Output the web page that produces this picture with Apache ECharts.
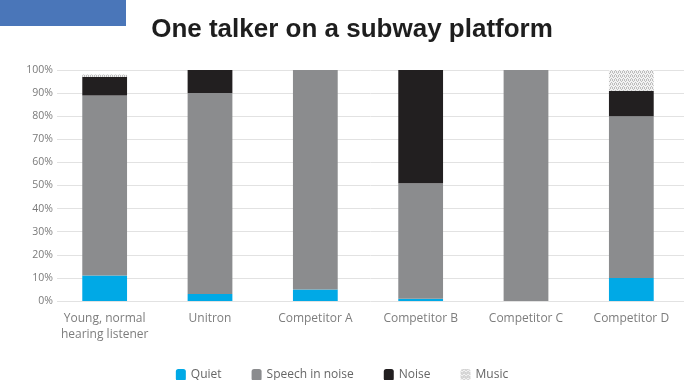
<!DOCTYPE html>
<html>
<head>
<meta charset="utf-8">
<script src="https://cdn.jsdelivr.net/npm/echarts@6/dist/echarts.min.js"></script>
<style>
  html, body { margin: 0; padding: 0; background: #ffffff; }
  #chart { width: 684px; height: 380px; }
</style>
</head>
<body>
<div id="chart"></div>
<script>
// Share of listening situations per listener/device (percent)
const categories = ['Young, normal\nhearing listener', 'Unitron', 'Competitor A', 'Competitor B', 'Competitor C', 'Competitor D'];
const quiet = [11, 3, 5, 1, 0, 10];
const speechInNoise = [78, 87, 95, 50, 100, 70];
const noise = [8, 10, 0, 49, 0, 11];
const music = [1, 0, 0, 0, 0, 9];
const yTicks = [0, 10, 20, 30, 40, 50, 60, 70, 80, 90, 100];

// Fine cross-hatch fill for the "Music" segments
function hatchPattern() {
  const c = document.createElement('canvas');
  c.width = 4; c.height = 4;
  const g = c.getContext('2d');
  g.fillStyle = '#f2f2f2';
  g.fillRect(0, 0, 4, 4);
  g.fillStyle = '#bcbcbc';
  g.fillRect(0, 0, 1, 1);
  g.fillRect(2, 0, 1, 1);
  g.fillRect(1, 1, 1, 1);
  g.fillRect(3, 2, 1, 1);
  g.fillRect(0, 3, 1, 1);
  g.fillRect(2, 3, 1, 1);
  return { image: c, repeat: 'repeat' };
}

const font = '"Open Sans", "Liberation Sans", sans-serif';
const chart = echarts.init(document.getElementById('chart'), null, { renderer: 'canvas' });

chart.setOption({
  backgroundColor: '#ffffff',
  animation: false,
  title: {
    text: 'One talker on a subway platform',
    left: 347, top: 12, textAlign: 'center',
    textStyle: { fontFamily: '"Liberation Sans", sans-serif', fontWeight: 'bold', fontSize: 26, color: '#1e1e1e' }
  },
  graphic: [
    { type: 'rect', left: 0, top: 0, shape: { width: 126, height: 26 }, style: { fill: '#4a76b9' }, z: 10 }
  ],
  legend: {
    bottom: -6, left: 'center',
    itemWidth: 10, itemHeight: 12, itemGap: 30,
    textStyle: { fontFamily: font, fontSize: 12, color: '#666' },
    data: ['Quiet', 'Speech in noise', 'Noise', 'Music']
  },
  grid: [
    { left: 52, top: 70, width: 634, height: 231 },
    { left: 57, top: 70, width: 627, height: 231 }
  ],
  xAxis: [
    {
      gridIndex: 0, type: 'category', data: categories,
      axisLine: { show: false }, axisTick: { show: false },
      axisLabel: { fontFamily: font, fontSize: 12, color: '#7d7d7d', lineHeight: 16, margin: 10, interval: 0 }
    },
    { gridIndex: 1, type: 'value', show: false, min: 0, max: 1 }
  ],
  yAxis: [
    { gridIndex: 0, type: 'value', min: 0, max: 100, interval: 10, show: false },
    {
      gridIndex: 1, type: 'value', min: 0, max: 100, interval: 10,
      axisLine: { show: false }, axisTick: { show: false },
      splitLine: { lineStyle: { color: '#e2e2e2', width: 1 } },
      axisLabel: {
        fontFamily: font, fontSize: 10.5, color: '#7a7a7a', margin: 4,
        formatter: v => yTicks.includes(v) ? v + '%' : ''
      }
    }
  ],
  series: [
    { name: 'Quiet', type: 'bar', stack: 'total', data: quiet, barWidth: '42.5%', itemStyle: { color: '#00a9e6' } },
    { name: 'Speech in noise', type: 'bar', stack: 'total', data: speechInNoise, itemStyle: { color: '#8b8c8e' } },
    { name: 'Noise', type: 'bar', stack: 'total', data: noise, itemStyle: { color: '#221f20' } },
    { name: 'Music', type: 'bar', stack: 'total', data: music, itemStyle: { color: hatchPattern() } }
  ]
});
</script>
</body>
</html>
